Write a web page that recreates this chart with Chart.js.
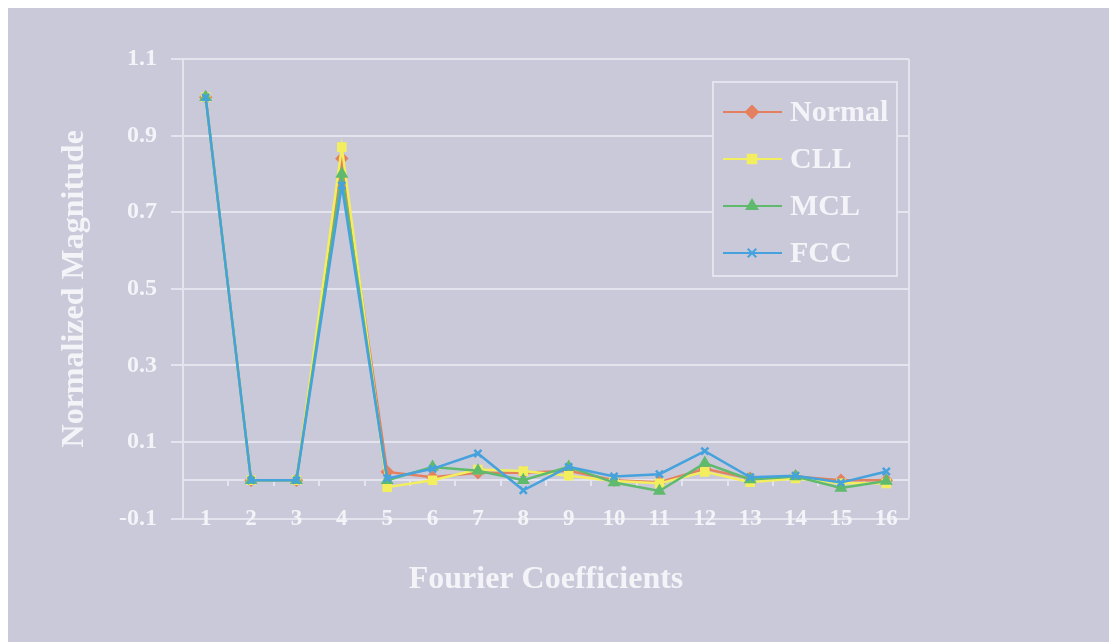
<!DOCTYPE html>
<html lang="en">
<head>
  <meta charset="UTF-8">
  <title>Fourier Coefficients</title>
  <style>
    body {
      margin: 0;
      background: #ffffff;
    }
    #wrap {
      position: absolute;
      left: 8px;
      top: 8px;
      width: 1101px;
      height: 634px;
      background: #c9c9da;
    }
  </style>
  <script src="https://cdn.jsdelivr.net/npm/chart.js"></script>
</head>
<body>

<div id="wrap"><canvas id="chart"></canvas></div>

<script>
const categories = ['1', '2', '3', '4', '5', '6', '7', '8', '9', '10', '11', '12', '13', '14', '15', '16'];
const yTicks = [-0.1, 0.1, 0.3, 0.5, 0.7, 0.9, 1.1];

const normalVals = [1.0, 0, 0, 0.84, 0.022, 0.008, 0.02, 0.02, 0.025, 0.0, -0.005, 0.03, 0.005, 0.01, 0.0, 0.0];
const cllVals    = [1.0, 0, 0, 0.87, -0.018, 0.0, 0.028, 0.024, 0.012, -0.002, -0.008, 0.022, -0.005, 0.005, -0.008, -0.008];
const mclVals    = [1.0, 0, 0, 0.80, 0.0, 0.035, 0.025, 0.0, 0.035, -0.006, -0.028, 0.045, 0.002, 0.01, -0.02, -0.002];
const fccVals    = [1.0, 0, 0, 0.77, 0.005, 0.03, 0.07, -0.026, 0.035, 0.01, 0.016, 0.076, 0.008, 0.012, -0.006, 0.023];

const serif = "'Liberation Serif', 'Times New Roman', serif";
const white = '#f4f4f8';
const gridCol = '#e4e4ee';

function series(label, data, color, style, order) {
  return {
    label, data, order,
    borderColor: color,
    backgroundColor: color,
    pointBackgroundColor: color,
    pointBorderColor: color,
    pointStyle: style,
    pointRadius: 5,
    borderWidth: 2.5,
    tension: 0
  };
}

// plot frame (right edge) + boxed legend inside the plot
const framePlugin = {
  id: 'frame',
  beforeDatasetsDraw(chart) {
    const {ctx, chartArea: a} = chart;
    ctx.save();
    ctx.strokeStyle = gridCol;
    ctx.lineWidth = 2;
    ctx.beginPath();
    ctx.moveTo(a.right, a.top);
    ctx.lineTo(a.right, a.bottom);
    ctx.stroke();
    ctx.restore();
  },
  afterDraw(chart) {
    const {ctx, chartArea: a} = chart;
    const left = a.right - 196, top = a.top + 23;
    ctx.save();
    ctx.strokeStyle = gridCol;
    ctx.lineWidth = 2;
    ctx.fillStyle = '#c9c9da';
    ctx.fillRect(left, top, 184, 194);
    ctx.strokeRect(left, top, 184, 194);
    chart.data.datasets.forEach((ds, i) => {
      const y = top + 30 + i * 47;
      ctx.strokeStyle = ds.borderColor;
      ctx.lineWidth = 2;
      ctx.beginPath();
      ctx.moveTo(left + 10, y);
      ctx.lineTo(left + 69, y);
      ctx.stroke();
      ctx.fillStyle = ds.backgroundColor;
      Chart.helpers.drawPoint(ctx, {pointStyle: ds.pointStyle, radius: 6, rotation: 0, borderWidth: 2}, left + 39, y);
      ctx.fillStyle = white;
      ctx.font = 'bold 30px ' + serif;
      ctx.textAlign = 'left';
      ctx.textBaseline = 'middle';
      ctx.fillText(ds.label, left + 77, y + 1);
    });
    ctx.restore();
  }
};

new Chart(document.getElementById('chart'), {
  type: 'line',
  data: {
    labels: categories,
    datasets: [
      series('Normal', normalVals, '#e5805f', 'rectRot', 4),
      series('CLL', cllVals, '#f2ee5e', 'rect', 3),
      series('MCL', mclVals, '#5fba6e', 'triangle', 2),
      series('FCC', fccVals, '#45a2dc', 'crossRot', 1)
    ]
  },
  options: {
    responsive: true,
    maintainAspectRatio: false,
    animation: false,
    layout: { padding: { top: 51, right: 200, bottom: 43, left: 0 } },
    plugins: {
      legend: { display: false },
      tooltip: { enabled: false },
      title: {
        display: true,
        text: 'Fourier Coefficients',
        position: 'bottom',
        fullSize: false,
        color: white,
        font: { family: serif, size: 32, weight: 'bold' },
        padding: { top: 42, bottom: 0 }
      }
    },
    scales: {
      x: {
        type: 'category',
        position: { y: 0 },
        offset: true,
        grid: { offset: true, drawOnChartArea: false, tickLength: 5, color: gridCol, lineWidth: 2 },
        border: { display: true, color: gridCol, width: 2 },
        ticks: { color: white, padding: 20, maxRotation: 0, autoSkip: false, font: { family: serif, size: 23, weight: 'bold' } }
      },
      y: {
        min: -0.1,
        max: 1.1,
        afterBuildTicks: s => { s.ticks = yTicks.map(v => ({ value: v })); },
        afterFit: s => { s.width = 175; },
        grid: { color: gridCol, lineWidth: 2, tickLength: 12 },
        border: { display: true, color: gridCol, width: 2 },
        ticks: {
          color: white,
          padding: 14,
          font: { family: serif, size: 24, weight: 'bold' },
          callback: v => v.toFixed(1)
        },
        title: {
          display: true,
          text: 'Normalized Magnitude',
          color: white,
          font: { family: serif, size: 32, weight: 'bold' },
          padding: { top: 48, bottom: 0 }
        }
      }
    }
  },
  plugins: [framePlugin]
});
</script>
</body>
</html>
